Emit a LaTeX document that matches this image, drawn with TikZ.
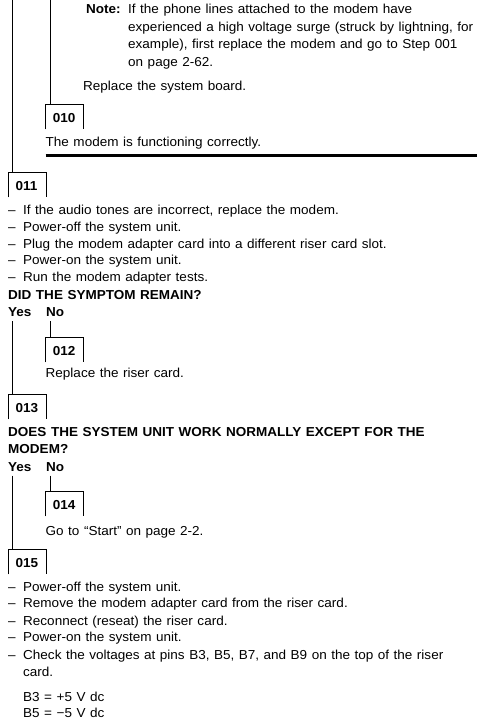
\documentclass[tikz,border=0pt]{standalone}
\usepackage{fontspec}
\setmainfont{Liberation Sans}[FakeStretch=1.04,WordSpace=1.2]
\begin{document}
\begin{tikzpicture}[x=1pt,y=-1pt,
  txt/.style={anchor=base west,inner sep=0pt,font=\fontsize{13}{15}\selectfont},
  btxt/.style={txt,font=\fontsize{13}{15}\selectfont\bfseries},
  stepbox/.style={anchor=north west,inner sep=0pt,minimum width=37.5pt,minimum height=25pt,
     text height=12pt,text depth=0pt,font=\fontsize{13}{15}\selectfont\bfseries},
  frame/.style={line width=0.9pt},
  conn/.style={line width=0.9pt},
  rule/.style={line width=3.3pt}]
\useasboundingbox (0,0) rectangle (491,724);
\newcommand{\stepno}[1]{\makebox[37.5pt][l]{\hspace{7.2pt}#1}}

% top section
\node[btxt] (note) at (86,13.5) {Note:};
\node[txt] (n1) at (128,13.5) {If the phone lines attached to the modem have};
\node[txt] (n2) at (128,31) {experienced a high voltage surge (struck by lightning, for};
\node[txt] (n3) at (128,48.5) {example), first replace the modem and go to Step 001};
\node[txt] (n4) at (128,66) {on page 2-62.};
\node[txt] (rsb) at (83,90) {Replace the system board.};

\node[stepbox] (b010) at (45.5,104) {\stepno{010}};
\node[txt] (ok) at (45.5,146) {The modem is functioning correctly.};
\coordinate (ruleA) at (45.5,155.5);
\coordinate (ruleB) at (477,155.5);
\draw[rule] (ruleA) -- (ruleB);

\node[stepbox] (b011) at (8.3,172) {\stepno{011}};
\coordinate (topL) at (12.5,0);
\coordinate (topM) at (50.5,0);
\draw[conn] (topL) -- (topL |- b011.north);
\draw[conn] (topM) -- (topM |- b010.north);

% step 011
\node[txt] (d1) at (8,214.5) {–};
\node[txt] (a1) at (23,214.5) {If the audio tones are incorrect, replace the modem.};
\node[txt] (d2) at (8,231) {–};
\node[txt] (a2) at (23,231) {Power-off the system unit.};
\node[txt] (d3) at (8,248) {–};
\node[txt] (a3) at (23,248) {Plug the modem adapter card into a different riser card slot.};
\node[txt] (d4) at (8,264.5) {–};
\node[txt] (a4) at (23,264.5) {Power-on the system unit.};
\node[txt] (d5) at (8,281) {–};
\node[txt] (a5) at (23,281) {Run the modem adapter tests.};
\node[btxt] (q1) at (8,299.5) {DID THE SYMPTOM REMAIN?};
\node[btxt] (yes1) at (8,316) {Yes};
\node[btxt] (no1) at (46,316) {No};

\node[stepbox] (b012) at (45.5,337) {\stepno{012}};
\node[txt] (rrc) at (45.5,377) {Replace the riser card.};
\node[stepbox] (b013) at (8.3,394) {\stepno{013}};
\coordinate (y1) at (12.5,321);
\coordinate (no1c) at (50.5,321);
\draw[conn] (y1) -- (y1 |- b013.north);
\draw[conn] (no1c) -- (no1c |- b012.north);

% step 013
\node[btxt] (q2a) at (8,436) {DOES THE SYSTEM UNIT WORK NORMALLY EXCEPT FOR THE};
\node[btxt] (q2b) at (8,453.5) {MODEM?};
\node[btxt] (yes2) at (8,471) {Yes};
\node[btxt] (no2) at (46,471) {No};
\node[stepbox] (b014) at (45.5,491) {\stepno{014}};
\node[txt] (gts) at (45.5,535) {Go to “Start” on page 2-2.};
\node[stepbox] (b015) at (8.3,549) {\stepno{015}};
\coordinate (y2) at (12.5,475.5);
\coordinate (no2c) at (50.5,475.5);
\draw[conn] (y2) -- (y2 |- b015.north);
\draw[conn] (no2c) -- (no2c |- b014.north);

% step 015
\node[txt] (e1) at (8,591) {–};
\node[txt] (c1) at (23,591) {Power-off the system unit.};
\node[txt] (e2) at (8,607.5) {–};
\node[txt] (c2) at (23,607.5) {Remove the modem adapter card from the riser card.};
\node[txt] (e3) at (8,625) {–};
\node[txt] (c3) at (23,625) {Reconnect (reseat) the riser card.};
\node[txt] (e4) at (8,641.5) {–};
\node[txt] (c4) at (23,641.5) {Power-on the system unit.};
\node[txt] (e5) at (8,659) {–};
\node[txt] (c5) at (23,659) {Check the voltages at pins B3, B5, B7, and B9 on the top of the riser};
\node[txt] (c6) at (23,676) {card.};
\node[txt] (v1) at (23,701) {B3 = +5 V dc};
\node[txt] (v2) at (23,717.5) {B5 = −5 V dc};

% step box frames (open at the bottom)
\foreach \b in {b010,b011,b012,b013,b014,b015}
  \draw[frame] (\b.south west) |- (\b.north east) -- (\b.south east);
\end{tikzpicture}
\end{document}
